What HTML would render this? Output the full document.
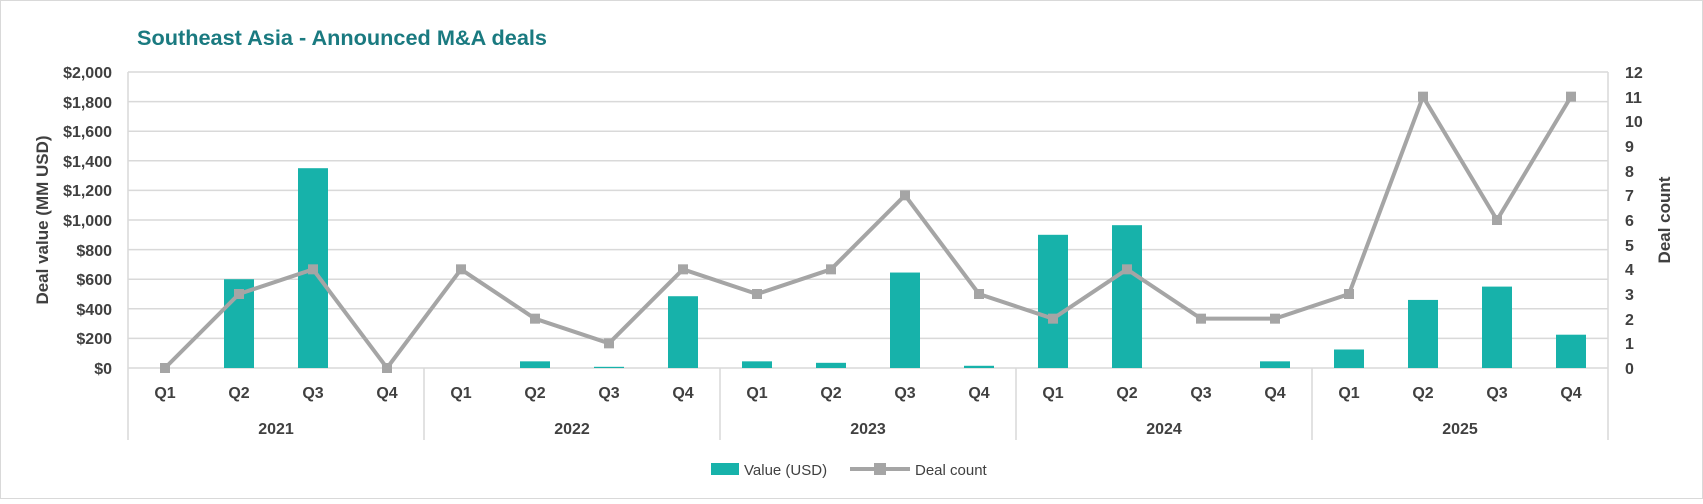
<!DOCTYPE html>
<html><head><style>body{margin:0;background:#fff}</style></head><body>
<svg width="1703" height="499" xmlns="http://www.w3.org/2000/svg" font-family="Liberation Sans, sans-serif">
<rect x="0.5" y="0.5" width="1702" height="498" fill="#fff" stroke="#d9d9d9"/>
<text x="137" y="45" font-size="21" font-weight="bold" fill="#1a7a80" textLength="410" lengthAdjust="spacingAndGlyphs">Southeast Asia - Announced  M&amp;A deals</text>
<g stroke="#d9d9d9" stroke-width="1.5">
<line x1="128" x2="1608" y1="72" y2="72"/><line x1="128" x2="1608" y1="101.6" y2="101.6"/>
<line x1="128" x2="1608" y1="131.2" y2="131.2"/><line x1="128" x2="1608" y1="160.8" y2="160.8"/>
<line x1="128" x2="1608" y1="190.4" y2="190.4"/><line x1="128" x2="1608" y1="220" y2="220"/>
<line x1="128" x2="1608" y1="249.6" y2="249.6"/><line x1="128" x2="1608" y1="279.2" y2="279.2"/>
<line x1="128" x2="1608" y1="308.8" y2="308.8"/><line x1="128" x2="1608" y1="338.4" y2="338.4"/>
<line x1="128" x2="1608" y1="368" y2="368"/>
<line x1="128" x2="128" y1="72" y2="440"/><line x1="424" x2="424" y1="368" y2="440"/>
<line x1="720" x2="720" y1="368" y2="440"/><line x1="1016" x2="1016" y1="368" y2="440"/>
<line x1="1312" x2="1312" y1="368" y2="440"/><line x1="1608" x2="1608" y1="72" y2="440"/>
</g>
<g font-size="16" fill="#404040" text-anchor="end" font-weight="bold">
<text x="112" y="78">$2,000</text><text x="112" y="108">$1,800</text><text x="112" y="137">$1,600</text>
<text x="112" y="167">$1,400</text><text x="112" y="196">$1,200</text><text x="112" y="226">$1,000</text>
<text x="112" y="256">$800</text><text x="112" y="285">$600</text><text x="112" y="315">$400</text>
<text x="112" y="344">$200</text><text x="112" y="374">$0</text>
</g>
<g font-size="16" fill="#404040" font-weight="bold">
<text x="1625" y="78">12</text><text x="1625" y="103">11</text><text x="1625" y="127">10</text>
<text x="1625" y="152">9</text><text x="1625" y="177">8</text><text x="1625" y="201">7</text>
<text x="1625" y="226">6</text><text x="1625" y="251">5</text><text x="1625" y="275">4</text>
<text x="1625" y="300">3</text><text x="1625" y="325">2</text><text x="1625" y="349">1</text>
<text x="1625" y="374">0</text>
</g>
<text transform="translate(48,220) rotate(-90)" text-anchor="middle" font-size="17" font-weight="bold" fill="#404040">Deal value (MM USD)</text>
<text transform="translate(1670,220) rotate(-90)" text-anchor="middle" font-size="17" font-weight="bold" fill="#404040">Deal count</text>
<g fill="#17b2aa" id="bars"></g>
<g font-size="16" fill="#404040" text-anchor="middle" font-weight="bold" id="xl"></g>
<g id="line"></g>
<rect x="711" y="463" width="28" height="12" fill="#17b2aa"/>
<text x="744" y="475" font-size="15" fill="#404040">Value (USD)</text>
<line x1="850" x2="910" y1="469" y2="469" stroke="#a5a5a5" stroke-width="4"/>
<rect x="874" y="463" width="12" height="12" fill="#a5a5a5"/>
<text x="915" y="475" font-size="15" fill="#404040">Deal count</text>
<script>
var v=[0,600,1350,0,0,45,8,485,45,35,645,15,900,965,0,45,125,460,550,225];
var c=[0,3,4,0,4,2,1,4,3,4,7,3,2,4,2,2,3,11,6,11];
var ns="http://www.w3.org/2000/svg",b=document.getElementById('bars'),xl=document.getElementById('xl'),ln=document.getElementById('line');
var pts=[];
for(var i=0;i<20;i++){var cx=165+i*74;
 if(v[i]>0){var r=document.createElementNS(ns,'rect');var h=v[i]*0.148;r.setAttribute('x',cx-15);r.setAttribute('y',368-h);r.setAttribute('width',30);r.setAttribute('height',h);b.appendChild(r);}
 var t=document.createElementNS(ns,'text');t.setAttribute('x',cx);t.setAttribute('y',398);t.textContent='Q'+(i%4+1);xl.appendChild(t);
 pts.push(cx+','+(368-c[i]*296/12));}
for(var y=0;y<5;y++){var t=document.createElementNS(ns,'text');t.setAttribute('x',276+y*296);t.setAttribute('y',434);t.textContent=2021+y;xl.appendChild(t);}
var p=document.createElementNS(ns,'polyline');p.setAttribute('points',pts.join(' '));p.setAttribute('fill','none');p.setAttribute('stroke','#a5a5a5');p.setAttribute('stroke-width',4);ln.appendChild(p);
pts.forEach(function(s){var a=s.split(',');var r=document.createElementNS(ns,'rect');r.setAttribute('x',a[0]-5);r.setAttribute('y',a[1]-5);r.setAttribute('width',10);r.setAttribute('height',10);r.setAttribute('fill','#a5a5a5');ln.appendChild(r);});
</script>
</svg>
</body></html>
